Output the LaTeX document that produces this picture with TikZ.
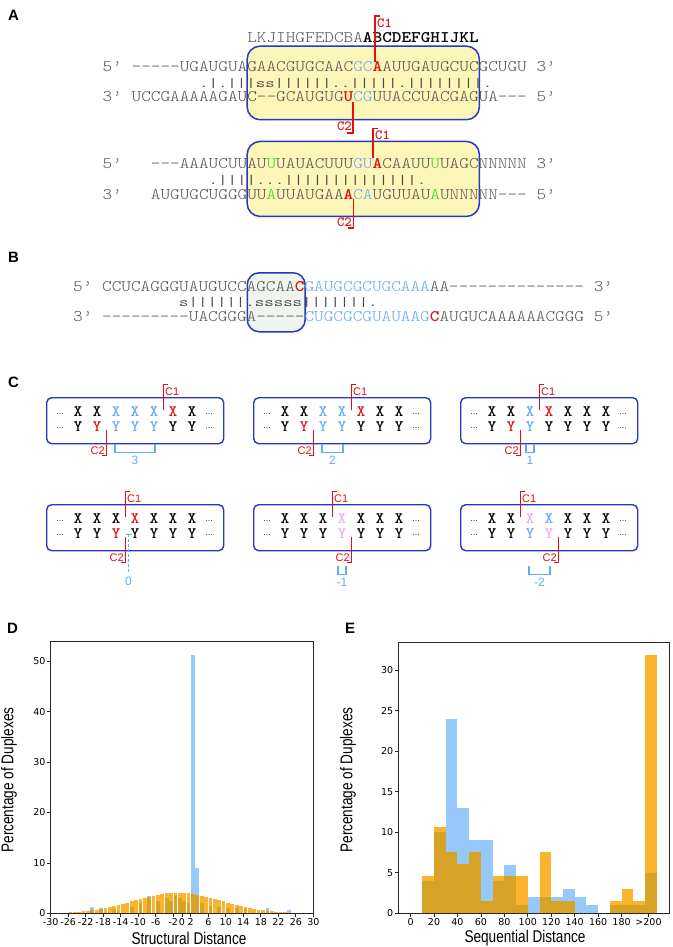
\documentclass[tikz,border=0pt]{standalone}
\usepackage{fontspec}
\usepackage{graphicx}
\newfontfamily\labelsans{Liberation Sans}
\newfontfamily\narrowsans[FakeStretch=0.8]{Liberation Sans}
\newfontfamily\ticksans{DejaVu Sans}
\usetikzlibrary{positioning,calc}

\definecolor{boxblue}{RGB}{38,56,196}
\definecolor{coreyellow}{RGB}{252,246,184}
\definecolor{coregreen}{RGB}{238,245,237}
\definecolor{seqgray}{RGB}{85,85,85}
\definecolor{hlred}{RGB}{228,16,16}
\definecolor{hlblue}{RGB}{100,170,250}
\definecolor{hlgreen}{RGB}{52,214,40}
\definecolor{hlpink}{RGB}{226,176,240}
\definecolor{histblue}{RGB}{150,200,250}
\definecolor{historange}{RGB}{252,180,46}
\definecolor{histmix}{RGB}{214,163,38}
\colorlet{ck}{black}
\colorlet{cb}{hlblue}
\colorlet{cr}{hlred}
\colorlet{cp}{hlpink}

\newcommand{\seqfont}{\fontsize{18.36}{20}\ttfamily\fontseries{l}\selectfont}
\newcommand{\xyfont}{\fontsize{16}{18}\ttfamily\bfseries}
\newcommand{\pitch}{9.64}
% one strand row: [#1 height scale] #2 name, #3 x of column 0, #4 baseline, #5 column/style/text
\newcommand{\seqrow}[5][0.88]{%
  \foreach \i/\st/\s in {#5} {\node[seq,\st] (#2-\i) at ({#3+\i*\pitch},#4) {\scalebox{1}[#1]{\s}};}}

\begin{document}
\begin{tikzpicture}[x=1pt, y=-1pt,
    panel/.style={font=\labelsans\bfseries\fontsize{15}{16}\selectfont, inner sep=0pt},
    seq/.style={font=\seqfont, inner sep=0pt, anchor=base west, text=seqgray},
    ntgray/.style={},
    ntblue/.style={text=hlblue},
    ntgreen/.style={text=hlgreen},
    ntred/.style={text=hlred, font=\seqfont\bfseries},
    ntbold/.style={text=black, font=\seqfont\bfseries},
    ntpair/.style={text=black!72, font=\fontsize{18.36}{20}\ttfamily\selectfont},
    core/.style={draw=boxblue, line width=1.5pt, rounded corners=13pt,
        inner sep=0pt, anchor=north west},
    cut/.style={draw=hlred, line width=1.1pt},
    cutA/.style={text=hlred, font=\ttfamily\bfseries\fontsize{14}{14}\selectfont, inner sep=0pt},
    cutC/.style={text=hlred, font=\labelsans\fontsize{11}{11}\selectfont, inner sep=0pt},
    xy/.style={font=\xyfont, inner sep=0pt},
    more/.style={font=\labelsans\fontsize{8}{8}\selectfont, inner sep=0pt},
    win/.style={draw=boxblue, line width=1.4pt, rounded corners=5pt,
        minimum width=177, minimum height=46, inner sep=0pt, anchor=north west},
    gap/.style={draw=hlblue, line width=1.1pt},
    gaplab/.style={text=hlblue, font=\labelsans\fontsize{12}{12}\selectfont, inner sep=0pt},
    frame/.style={draw=black!85, line width=0.8pt},
    tick/.style={font=\ticksans\fontsize{9.5}{10}\selectfont, inner sep=0pt},
    axlab/.style={font=\narrowsans\fontsize{17}{18}\selectfont, inner sep=0pt}
]
\useasboundingbox (0,0) rectangle (672,947);

% ---- Panel letters ----
\node[panel] (labA) at (13.5,15) {A};
\node[panel] (labB) at (13.5,257.5) {B};
\node[panel] (labC) at (13.5,382.5) {C};
\node[panel] (labD) at (12.5,628) {D};
\node[panel] (labE) at (350,628) {E};

% ---- A: first duplex ----
\node[core, fill=coreyellow, minimum width=232.2, minimum height=73.6] (coreA1) at (246.4,45.4) {};
\seqrow{idxA}{102.5}{42.5}{15/ntgray/LKJIHGFEDCBA, 27/ntbold/ABCDEFGHIJKL}
\seqrow{topA}{102.5}{71.8}{0/ntgray/5’, 3/ntgray/-----UGAUGUAGAACGUGCAAC, 26/ntblue/GC,
    28/ntred/A, 29/ntgray/AUUGAUGCUCGCUGU, 45/ntgray/3’}
\seqrow[0.72]{pairA}{102.5}{88}{10/ntpair/.|.|||ss||||||..|||||.||||||||.}
\seqrow{botA}{102.5}{102}{0/ntgray/3’, 3/ntgray/UCCGAAAAAGAUC--GCAUGUG, 25/ntred/U,
    26/ntblue/CG, 28/ntgray/UUACCUACGAGUA---, 45/ntgray/5’}

\coordinate (a1c1) at (375,16);
\draw[cut] (a1c1 |- topA-28.north) -- (a1c1) -- ++(5,0);
\node[cutA, anchor=west] (a1c1lab) at (377,23) {C1};
\coordinate (a1c2) at (353,133);
\draw[cut] (a1c2 |- botA-25.south) -- (a1c2) -- ++(-6,0);
\node[cutA, anchor=east] (a1c2lab) at (352,126) {C2};

% ---- A: second duplex ----
\node[core, fill=coreyellow, minimum width=232.2, minimum height=75] (coreA2) at (246.4,140.7) {};
\seqrow{topA2}{102.5}{168}{0/ntgray/5’, 5/ntgray/---AAAUCUUAU, 17/ntgreen/U, 18/ntgray/UAUACUUU,
    26/ntblue/GU, 28/ntred/A, 29/ntgray/CAAUU, 34/ntgreen/U, 35/ntgray/UAGCNNNNN, 45/ntgray/3’}
\seqrow[0.72]{pairA2}{102.5}{184.5}{11/ntpair/.||||.{}.{}.||||||||||||||.}
\seqrow{botA2}{102.5}{199}{0/ntgray/3’, 5/ntgray/AUGUGCUGGGUU, 17/ntgreen/A, 18/ntgray/UUAUGAA,
    25/ntred/A, 26/ntblue/CA, 28/ntgray/UGUUAU, 34/ntgreen/A, 35/ntgray/UNNNNN---, 45/ntgray/5’}

\coordinate (a2c1) at (373,128.5);
\draw[cut] (a2c1 |- topA2-28.north) -- (a2c1) -- ++(5,0);
\node[cutA, anchor=west] (a2c1lab) at (375,135) {C1};
\coordinate (a2c2) at (353.6,228);
\draw[cut] (a2c2 |- botA2-25.south) -- (a2c2) -- ++(-6,0);
\node[cutA, anchor=east] (a2c2lab) at (352,222) {C2};

% ---- B ----
\node[core, fill=coregreen, rounded corners=12pt, minimum width=57.9, minimum height=59] (coreB) at (246.5,272) {};
\seqrow{topB}{73}{291}{0/ntgray/5’, 3/ntgray/CCUCAGGGUAUGUCCAGCAA, 23/ntred/C,
    24/ntblue/GAUGCGCUGCAAA, 37/ntgray/AA--------------, 54/ntgray/3’}
\seqrow[0.72]{pairB}{73}{306.5}{11/ntpair/s||||||.sssss|||||||.}
\seqrow{botB}{73}{321}{0/ntgray/3’, 3/ntgray/---------UACGGGA-----, 24/ntblue/CUGCGCGUAUAAG,
    37/ntred/C, 38/ntgray/AUGUCAAAAAACGGG, 54/ntgray/5’}

% ---- C: cut windows ----
\foreach \bx/\by/\xcols/\ycols/\ci/\cii/\da/\db/\dlab/\gy [count=\n] in {
    46/397/{k,k,b,b,b,r,k}/{k,r,b,b,b,k,k}/5/2/2/4/3/47,
    253/397/{k,k,b,b,r,k,k}/{k,r,b,b,k,k,k}/4/2/2/3/2/47,
    460/397/{k,k,b,r,k,k,k}/{k,r,b,k,k,k,k}/3/2/2/2/1/47,
    46/504/{k,k,k,r,k,k,k}/{k,k,r,k,k,k,k}/3/3/-1/-1/0/62,
    253/504/{k,k,k,p,k,k,k}/{k,k,k,p,k,k,k}/3/4/3/3/-1/62,
    460/504/{k,k,p,b,k,k,k}/{k,k,b,p,k,k,k}/2/4/2/3/-2/62} {
  \node[win] (win\n) at (\bx,\by) {};
  \node[more] (ml\n) at (\bx+14,\by+17) {…};
  \node[more] (mr\n) at (\bx+163,\by+17) {…};
  \node[more] (nl\n) at (\bx+14,\by+31) {…};
  \node[more] (nr\n) at (\bx+163,\by+31) {…};
  \foreach \col [count=\k from 0] in \xcols
    \node[xy, text=c\col] (x\n-\k) at ({\bx+32+19*\k},{\by+14.5}) {X};
  \foreach \col [count=\k from 0] in \ycols
    \node[xy, text=c\col] (y\n-\k) at ({\bx+32+19*\k},{\by+29.5}) {Y};
  % cut marks
  \pgfmathsetmacro\cx{\bx+32+19*(\ci-0.5)}
  \pgfmathsetmacro\ccx{\bx+32+19*(\cii-0.5)}
  \coordinate (c1a\n) at (\cx,\by+13);
  \coordinate (c1b\n) at (\cx,\by-12.5);
  \draw[cut] (c1a\n) -- (c1b\n) -- ++(4.5,0);
  \node[cutC, anchor=west] (c1lab\n) at (\cx+1.5,\by-5.5) {C1};
  \coordinate (c2a\n) at (\ccx,\by+33);
  \coordinate (c2b\n) at (\ccx,\by+58.7);
  \draw[cut] (c2a\n) -- (c2b\n) -- ++(-4.5,0);
  \node[cutC, anchor=east] (c2lab\n) at (\ccx-1.5,\by+54) {C2};
  % distance bracket
  \ifnum\da<0
    \coordinate (g0a) at (\ccx+3,\by+30);
    \coordinate (g0b) at (\ccx+3,\by+69);
    \draw[gap, line width=0.9pt] ([xshift=-3]g0a) -- ([xshift=3]g0a);
    \draw[gap, line width=0.9pt, dash pattern=on 3pt off 2pt] (g0a) -- (g0b);
    \node[gaplab] (gl\n) at (\ccx+3,\by+77) {\dlab};
  \else
    \pgfmathsetmacro\gw{ifthenelse(\da==\db,4,1)}
    \draw[gap] ({\bx+32+19*\da-\gw},{\by+\gy}) |- ({\bx+32+19*\db+\gw},{\by+\gy+8.5}) -- ++(0,-8.5);
    \node[gaplab] (gl\n) at ({\bx+32+19*(\da+\db)/2},{\by+\gy+16}) {\dlab};
  \fi
}

% ---- D: structural distance ----
\begin{scope}[shift={(182.01,913.3)}, x=4.377pt, y=5.04pt]
  \foreach \k/\b in {-21/1.2, -19/1.1, -16/0.8, -12/1.2, -10/2.0, -8/3.5, -6/2.5, -4/3.0,
      -3/2.5, -2/3.5, -1/3.0, 0/2.5, 1/2.0, 2/51.2, 3/9.0, 4/2.0, 6/1.5, 8/1.2, 10/1.0,
      12/1.0, 14/0.8, 19/1.1, 24/0.6}
    \fill[histblue] (\k+0.075,0) rectangle (\k+0.925,\b);
  \foreach \k in {-26,...,23} {
    \pgfmathsetmacro\h{4.1*exp(-((\k+1.5)^2)/200)}
    \fill[historange] (\k+0.075,0) rectangle (\k+0.925,\h);
  }
  \foreach \k/\b in {-21/1.2, -19/1.1, -16/0.8, -12/1.2, -10/2.0, -8/3.5, -6/2.5, -4/3.0,
      -3/2.5, -2/3.5, -1/3.0, 0/2.5, 1/2.0, 2/51.2, 3/9.0, 4/2.0, 6/1.5, 8/1.2, 10/1.0,
      12/1.0, 14/0.8, 19/1.1} {
    \pgfmathsetmacro\m{min(\b,4.1*exp(-((\k+1.5)^2)/200))}
    \fill[histmix] (\k+0.075,0) rectangle (\k+0.925,\m);
  }
  \draw[frame] (-30,0) rectangle (30,53.9);
  \foreach \t in {-30,-26,...,-2,0,2,6,...,30} {
    \draw[frame] (\t,0) -- ++(0,-3.5pt);
    \node[tick, anchor=north] at ([yshift=-5pt]\t,0) {\t};
  }
  \foreach \t in {0,10,...,50} {
    \draw[frame] (-30,\t) -- ++(-3.5pt,0);
    \node[tick, anchor=east] at ([xshift=-5pt]-30,\t) {\t};
  }
\end{scope}
\node[axlab, rotate=90] (dylab) at (9,780) {Percentage of Duplexes};
\node[axlab] (dxlab) at (189,938) {Structural Distance};

% ---- E: sequential distance ----
\begin{scope}[shift={(410.6,913.3)}, x=1.1719pt, y=8.11pt]
  \foreach \v/\o/\b in {10/4.6/4.0, 20/10.6/10.0, 30/7.6/24.0, 40/6.1/13.0, 50/7.6/9.0,
      60/1.5/9.0, 70/4.6/4.0, 80/4.6/6.0, 90/4.6/1.0, 100/0/2.0, 110/7.6/2.0, 120/1.5/2.0,
      130/1.5/3.0, 140/0/2.0, 150/0/1.0, 170/1.5/1.0, 180/3.0/1.0, 190/1.5/1.0, 200/31.8/5.0} {
    \pgfmathsetmacro\m{min(\o,\b)}
    \fill[histblue] (\v,0) rectangle (\v+10,\b);
    \fill[historange] (\v,0) rectangle (\v+10,\o);
    \fill[histmix] (\v,0) rectangle (\v+10,\m);
  }
  \draw[frame] (-10.5,0) rectangle (220.5,33.4);
  \foreach \t in {0,20,...,180} {
    \draw[frame] (\t,0) -- ++(0,-3.5pt);
    \node[tick, anchor=north] at ([yshift=-5pt]\t,0) {\t};
  }
  \draw[frame] (203,0) -- ++(0,-3.5pt);
  \node[tick, anchor=north] at ([yshift=-5pt]203,0) {>200};
  \foreach \t in {0,5,...,30} {
    \draw[frame] (-10.5,\t) -- ++(-3.5pt,0);
    \node[tick, anchor=east] at ([xshift=-5pt]-10.5,\t) {\t};
  }
\end{scope}
\node[axlab, rotate=90] (eylab) at (348,780) {Percentage of Duplexes};
\node[axlab] (exlab) at (525,938) {Sequential Distance};
\end{tikzpicture}
\end{document}
